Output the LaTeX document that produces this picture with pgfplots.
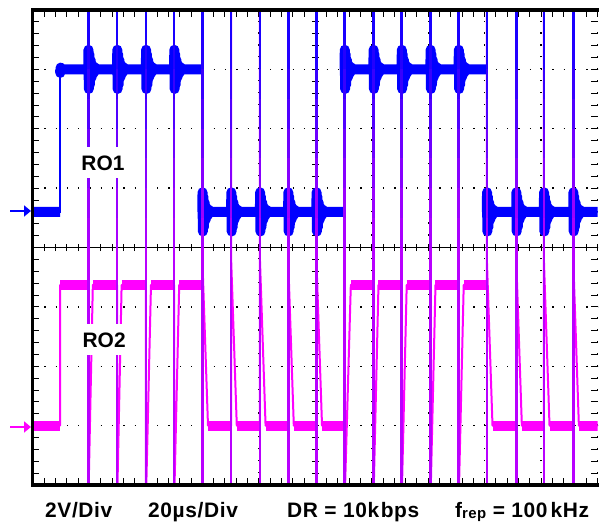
\documentclass[border=0pt]{standalone}
\usepackage{fontspec}
\setmainfont{Liberation Sans}
\usepackage{pgfplots}
\pgfplotsset{compat=1.18}
\usetikzlibrary{arrows.meta}
\definecolor{ro1}{RGB}{0,0,255}
\definecolor{ro2}{RGB}{255,0,255}
\definecolor{va}{RGB}{185,0,255}
\definecolor{vb}{RGB}{170,0,255}
\definecolor{vc}{RGB}{155,0,255}
\definecolor{vd}{RGB}{135,0,255}
\definecolor{ve}{RGB}{110,0,255}
\definecolor{vf}{RGB}{80,0,255}
\definecolor{vg}{RGB}{55,0,255}
\definecolor{vh}{RGB}{35,0,255}
\definecolor{vi}{RGB}{25,0,255}
\begin{document}
\begin{tikzpicture}
\begin{axis}[
  at={(33bp,37bp)}, anchor=south west, scale only axis,
  width=564.5bp, height=475bp,
  xmin=0, xmax=10, ymin=0, ymax=8,
  axis line style={draw=none},
  xtick={0,...,10}, ytick={0,...,8},
  minor x tick num=4, minor y tick num=4,
  xticklabels={}, yticklabels={},
  tick align=inside, xtick pos=both, ytick pos=both,
  major tick length=6.5bp, minor tick length=6.5bp,
  tick style={black, line width=0.9bp},
  grid=major,
  major x grid style={black, line width=1.3bp, dash pattern=on 1.3bp off 10.575bp},
  major y grid style={black, line width=1.3bp, dash pattern=on 1.3bp off 9.99bp},
  clip mode=individual,
  unbounded coords=jump,
]
% centre lines
\draw[black, line width=1bp] (axis cs:0,4) -- (axis cs:10,4);
\draw[black, line width=1bp] (axis cs:5,0) -- (axis cs:5,8);
\pgfplotsinvokeforeach{0.2,0.4,...,9.9}{\draw[black,line width=0.9bp] (axis cs:#1,3.94) -- (axis cs:#1,4.06);}
\pgfplotsinvokeforeach{0.2,0.4,...,7.9}{\draw[black,line width=0.9bp] (axis cs:4.938,#1) -- (axis cs:5.062,#1);}

% RO2 thin trace
\addplot[ro2, line width=2bp, line join=round] coordinates {
(0,1) (0.48,1) (0.48,3.37) (0.98,3.37) (0.98,-0.3) (1.06,3.37) (1.49,3.37) (1.49,-0.3) (1.57,3.37)
(2.00,3.37) (2.00,-0.3) (2.09,3.37) (2.50,3.37) (2.50,-0.3) (2.59,3.37) (3.00,3.37) (3.00,8.3) (3.00,3.8) (3.10,1.0)
(3.51,1.0) (3.51,8.3) (3.51,3.8) (3.61,1.0) (4.02,1.0) (4.02,8.3) (4.02,3.8) (4.12,1.0) (4.52,1) (4.52,8.3) (4.52,3.8) (4.62,1)
(5.02,1) (5.02,8.3) (5.02,3.8) (5.12,1) (5.52,1) (5.52,-0.3) (5.63,3.37) (6.03,3.37) (6.03,-0.3) (6.12,3.37)
(6.53,3.37) (6.53,-0.3) (6.62,3.37) (7.04,3.37) (7.04,-0.3) (7.13,3.37) (7.54,3.37) (7.54,-0.3) (7.63,3.37)
(8.04,3.37) (8.04,8.3) (8.04,3.8) (8.14,1) (8.56,1) (8.56,8.3) (8.56,3.8) (8.66,1) (9.05,1) (9.05,8.3) (9.05,3.8) (9.15,1)
(9.57,1) (9.57,8.3) (9.57,3.8) (9.67,1) (10,1)};
% RO2 level bands
\addplot[ro2, line width=10bp, line cap=butt] coordinates {
(0,1.0) (0.48,1.0) (0.5,nan)
(0.48,3.37) (0.98,3.37) (1,nan)
(1.06,3.37) (1.49,3.37) (1.5,nan)
(1.57,3.37) (2.00,3.37) (2.02,nan)
(2.09,3.37) (2.50,3.37) (2.52,nan)
(2.59,3.37) (3.00,3.37) (3.02,nan)
(3.10,1.0) (3.51,1.0) (3.52,nan)
(3.61,1.0) (4.02,1.0) (4.03,nan)
(4.12,1.0) (4.52,1.0) (4.53,nan)
(4.62,1.0) (5.02,1.0) (5.03,nan)
(5.12,1.0) (5.52,1.0) (5.53,nan)
(5.63,3.37) (6.03,3.37) (6.04,nan)
(6.12,3.37) (6.53,3.37) (6.54,nan)
(6.62,3.37) (7.04,3.37) (7.05,nan)
(7.13,3.37) (7.54,3.37) (7.55,nan)
(7.63,3.37) (8.04,3.37) (8.05,nan)
(8.14,1.0) (8.56,1.0) (8.57,nan)
(8.66,1.0) (9.05,1.0) (9.06,nan)
(9.15,1.0) (9.57,1.0) (9.58,nan)
(9.67,1.0) (10,1.0)};

% RO1 thin trace
\addplot[ro1, line width=2bp] coordinates {
(0,4.6) (0.48,4.6) (0.48,7) (3.00,7) (3.00,4.6) (5.52,4.6) (5.52,7) (8.04,7) (8.04,4.6) (10,4.6)};
% RO1 level bands with ringing
\addplot[ro1, line width=10bp, line cap=butt, line join=round] coordinates {
(0,4.6) (0.48,4.6) (0.49,nan)
(0.48,7) (0.483,6.94) (0.49,7.03) (0.50,7)
(0.98,7) (0.983,7.33) (0.989,6.67) (0.997,7.26) (1.007,6.74) (1.02,7.16) (1.036,6.86) (1.055,7.07) (1.077,6.94) (1.102,7.03) (1.13,7)
(1.49,7) (1.493,7.33) (1.499,6.67) (1.507,7.26) (1.517,6.74) (1.53,7.16) (1.546,6.86) (1.565,7.07) (1.587,6.94) (1.612,7.03) (1.64,7)
(2.00,7) (2.003,7.33) (2.009,6.67) (2.017,7.26) (2.027,6.74) (2.04,7.16) (2.056,6.86) (2.075,7.07) (2.097,6.94) (2.122,7.03) (2.15,7)
(2.50,7) (2.503,7.33) (2.509,6.67) (2.517,7.26) (2.527,6.74) (2.54,7.16) (2.556,6.86) (2.575,7.07) (2.597,6.94) (2.622,7.03) (2.65,7)
(3.00,7) (3.01,nan)
(3.00,4.6) (3.003,4.93) (3.009,4.27) (3.017,4.86) (3.027,4.34) (3.04,4.76) (3.056,4.46) (3.075,4.67) (3.097,4.54) (3.122,4.63) (3.15,4.6)
(3.51,4.6) (3.513,4.93) (3.519,4.27) (3.527,4.86) (3.537,4.34) (3.55,4.76) (3.566,4.46) (3.585,4.67) (3.607,4.54) (3.632,4.63) (3.66,4.6)
(4.02,4.6) (4.023,4.93) (4.029,4.27) (4.037,4.86) (4.047,4.34) (4.06,4.76) (4.076,4.46) (4.095,4.67) (4.117,4.54) (4.142,4.63) (4.17,4.6)
(4.52,4.6) (4.523,4.93) (4.529,4.27) (4.537,4.86) (4.547,4.34) (4.56,4.76) (4.576,4.46) (4.595,4.67) (4.617,4.54) (4.642,4.63) (4.67,4.6)
(5.02,4.6) (5.023,4.93) (5.029,4.27) (5.037,4.86) (5.047,4.34) (5.06,4.76) (5.076,4.46) (5.095,4.67) (5.117,4.54) (5.142,4.63) (5.17,4.6)
(5.52,4.6) (5.53,nan)
(5.52,7) (5.523,7.33) (5.529,6.67) (5.537,7.26) (5.547,6.74) (5.56,7.16) (5.576,6.86) (5.595,7.07) (5.617,6.94) (5.642,7.03) (5.67,7)
(6.03,7) (6.033,7.33) (6.039,6.67) (6.047,7.26) (6.057,6.74) (6.07,7.16) (6.086,6.86) (6.105,7.07) (6.127,6.94) (6.152,7.03) (6.18,7)
(6.53,7) (6.533,7.33) (6.539,6.67) (6.547,7.26) (6.557,6.74) (6.57,7.16) (6.586,6.86) (6.605,7.07) (6.627,6.94) (6.652,7.03) (6.68,7)
(7.04,7) (7.043,7.33) (7.049,6.67) (7.057,7.26) (7.067,6.74) (7.08,7.16) (7.096,6.86) (7.115,7.07) (7.137,6.94) (7.162,7.03) (7.19,7)
(7.54,7) (7.543,7.33) (7.549,6.67) (7.557,7.26) (7.567,6.74) (7.58,7.16) (7.596,6.86) (7.615,7.07) (7.637,6.94) (7.662,7.03) (7.69,7)
(8.04,7) (8.05,nan)
(8.04,4.6) (8.043,4.93) (8.049,4.27) (8.057,4.86) (8.067,4.34) (8.08,4.76) (8.096,4.46) (8.115,4.67) (8.137,4.54) (8.162,4.63) (8.19,4.6)
(8.56,4.6) (8.563,4.93) (8.569,4.27) (8.577,4.86) (8.587,4.34) (8.60,4.76) (8.616,4.46) (8.635,4.67) (8.657,4.54) (8.682,4.63) (8.71,4.6)
(9.05,4.6) (9.053,4.93) (9.059,4.27) (9.067,4.86) (9.077,4.34) (9.09,4.76) (9.106,4.46) (9.125,4.67) (9.147,4.54) (9.172,4.63) (9.20,4.6)
(9.57,4.6) (9.573,4.93) (9.579,4.27) (9.587,4.86) (9.597,4.34) (9.61,4.76) (9.626,4.46) (9.645,4.67) (9.667,4.54) (9.692,4.63) (9.72,4.6)
(10,4.6)};

% repetitive transient pulses (off-screen spikes), shaded blue (top) to violet (bottom)
\pgfplotsinvokeforeach{0.98,1.49,2.00,2.50,3.00,3.51,4.02,4.52,5.02,5.52,6.03,6.53,7.04,7.54,8.04,8.56,9.05,9.57}{
\addplot[va, line width=2.7bp, line cap=butt] coordinates {(#1,0) (#1,4)};
\addplot[vb, line width=2.7bp, line cap=butt] coordinates {(#1,4) (#1,4.5)};
\addplot[vc, line width=2.7bp, line cap=butt] coordinates {(#1,4.5) (#1,5)};
\addplot[vd, line width=2.7bp, line cap=butt] coordinates {(#1,5) (#1,5.5)};
\addplot[ve, line width=2.7bp, line cap=butt] coordinates {(#1,5.5) (#1,6)};
\addplot[vf, line width=2.7bp, line cap=butt] coordinates {(#1,6) (#1,6.5)};
\addplot[vg, line width=2.7bp, line cap=butt] coordinates {(#1,6.5) (#1,7)};
\addplot[vh, line width=2.7bp, line cap=butt] coordinates {(#1,7) (#1,7.5)};
\addplot[vi, line width=2.7bp, line cap=butt] coordinates {(#1,7.5) (#1,8)};
}

\node[fill=white, inner xsep=2bp, inner ysep=8bp, text height=15bp, text depth=0bp, font=\fontsize{21}{24}\selectfont\bfseries] at (axis cs:1.24,5.43) {RO1};
\node[fill=white, inner xsep=2bp, inner ysep=8bp, text height=15bp, text depth=0bp, font=\fontsize{21}{24}\selectfont\bfseries] at (axis cs:1.26,2.45) {RO2};
\end{axis}
% screen frame
\draw[black, line width=3.5bp] (599bp,512bp) -- (32.5bp,512bp) -- (32.5bp,37bp) -- (599bp,37bp);
% ground markers
\draw[ro1, line width=1.8bp, -{Triangle[length=7bp,width=11bp]}] (10bp,311bp) -- (31bp,311bp);
\draw[ro2, line width=1.8bp, -{Triangle[length=7bp,width=11bp]}] (10bp,95bp) -- (31bp,95bp);
% bottom annotations
\begin{scope}[every node/.style={anchor=base west, inner sep=0pt, font=\fontsize{21}{24}\selectfont\bfseries\addfontfeature{LetterSpace=3}}]
\node at (45bp,5bp) {2V/Div};
\node at (148bp,5bp) {20µs/Div};
\node at (287bp,5bp) {DR = 10k\kern1.5bp bps};
\node at (455bp,5bp) {f\raisebox{-1.5bp}{\fontsize{15}{15}\selectfont rep} = 100\kern3bp kHz};
\end{scope}
\pgfresetboundingbox
\path[use as bounding box] (0,0) rectangle (599bp,522bp);
\end{tikzpicture}
\end{document}
